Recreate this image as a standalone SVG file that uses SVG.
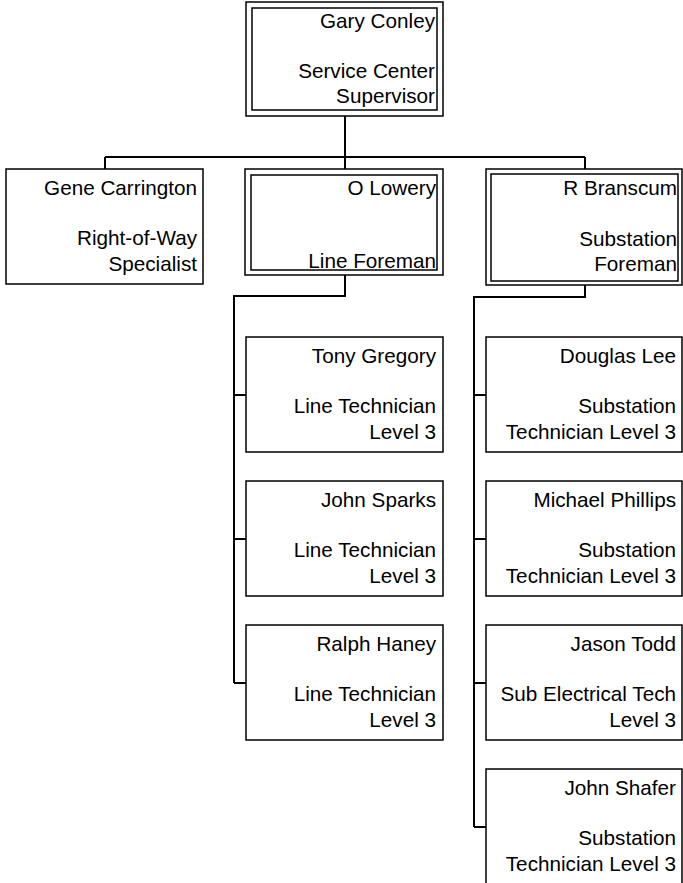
<svg xmlns="http://www.w3.org/2000/svg" width="683" height="883" viewBox="0 0 683 883">
<style>
.box{fill:#fff;stroke:#000;stroke-width:1.5}
.conn{fill:none;stroke:#000;stroke-width:2}
text{font-family:"Liberation Sans",Arial,sans-serif;font-size:20.7px;fill:#000;text-anchor:end}
</style>
<rect width="683" height="883" fill="#fff"/>
<g id="connectors" class="conn">
<path d="M345 116V157M105 157H585M105 157V169M345 157V169M585 157V169"/>
<path d="M345 275V296H234V683M234 395H246M234 539H246M234 683H246"/>
<path d="M585 285V297H474V827M474 395H486M474 539H486M474 683H486M474 827H486"/>
</g>
<g id="gary">
<rect class="box" x="246" y="2" width="197" height="114"/>
<rect class="box" x="252" y="8" width="185" height="102"/>
<text x="435" y="28">Gary Conley</text>
<text x="435" y="78">Service Center</text>
<text x="435" y="103">Supervisor</text>
</g>
<g id="gene">
<rect class="box" x="6" y="169" width="197" height="115"/>
<text x="197" y="195">Gene Carrington</text>
<text x="197" y="245">Right-of-Way</text>
<text x="197" y="271">Specialist</text>
</g>
<g id="olowery">
<rect class="box" x="245" y="169" width="198" height="106"/>
<rect class="box" x="251" y="175" width="186" height="95"/>
<text x="436" y="195">O Lowery</text>
<text x="436" y="268">Line Foreman</text>
</g>
<g id="rbranscum">
<rect class="box" x="486" y="169" width="196" height="116"/>
<rect class="box" x="491" y="174" width="187" height="107"/>
<text x="677" y="195">R Branscum</text>
<text x="677" y="246">Substation</text>
<text x="677" y="271">Foreman</text>
</g>
<g id="tony">
<rect class="box" x="246" y="337" width="197" height="115"/>
<text x="436" y="363">Tony Gregory</text>
<text x="436" y="413">Line Technician</text>
<text x="436" y="439">Level 3</text>
</g>
<g id="sparks">
<rect class="box" x="246" y="481" width="197" height="115"/>
<text x="436" y="507">John Sparks</text>
<text x="436" y="557">Line Technician</text>
<text x="436" y="583">Level 3</text>
</g>
<g id="haney">
<rect class="box" x="246" y="625" width="197" height="115"/>
<text x="436" y="651">Ralph Haney</text>
<text x="436" y="701">Line Technician</text>
<text x="436" y="727">Level 3</text>
</g>
<g id="douglas">
<rect class="box" x="486" y="337" width="196" height="115"/>
<text x="676" y="363">Douglas Lee</text>
<text x="676" y="413">Substation</text>
<text x="676" y="439">Technician Level 3</text>
</g>
<g id="michael">
<rect class="box" x="486" y="481" width="196" height="115"/>
<text x="676" y="507">Michael Phillips</text>
<text x="676" y="557">Substation</text>
<text x="676" y="583">Technician Level 3</text>
</g>
<g id="jason">
<rect class="box" x="486" y="625" width="196" height="115"/>
<text x="676" y="651">Jason Todd</text>
<text x="676" y="701">Sub Electrical Tech</text>
<text x="676" y="727">Level 3</text>
</g>
<g id="shafer">
<rect class="box" x="486" y="769" width="196" height="115"/>
<text x="676" y="795">John Shafer</text>
<text x="676" y="845">Substation</text>
<text x="676" y="871">Technician Level 3</text>
</g>
</svg>
